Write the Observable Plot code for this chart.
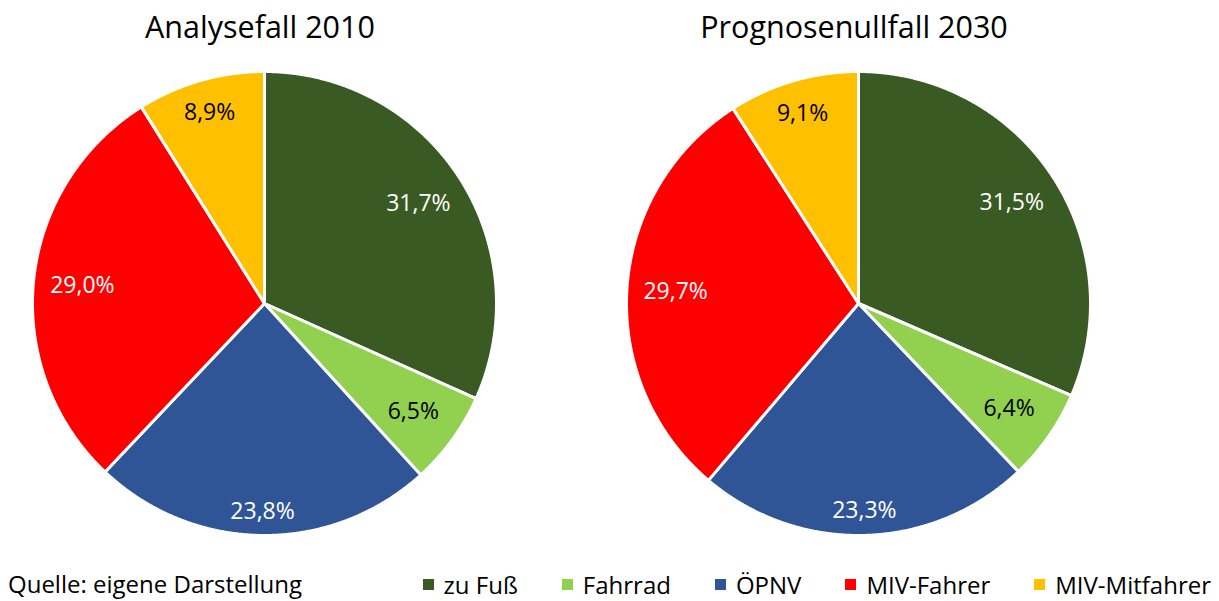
<!DOCTYPE html>
<html><head><meta charset="utf-8">
<script src="https://cdn.jsdelivr.net/npm/d3@7"></script>
<script src="https://cdn.jsdelivr.net/npm/@observablehq/plot@0.6"></script>
<style>
body{margin:0;background:#fff;font-family:"Open Sans",sans-serif;}
#wrap{position:relative;width:1219px;height:601px;overflow:hidden;background:#fff;}
.title{position:absolute;top:5px;font-size:30.5px;color:#000;transform:translateX(-50%);white-space:nowrap;}
.pie{position:absolute;top:63px;}
#caption{position:absolute;left:8px;top:567px;font-size:24px;line-height:34px;color:#000;white-space:nowrap;}
#legend{position:absolute;right:8px;top:567px;}
#legend .lg-swatches{margin:0 !important;min-height:0 !important;height:34px;font-size:24px !important;font-family:"Open Sans",sans-serif !important;color:#000;flex-wrap:nowrap !important;}
#legend .lg-swatch{margin-right:44px !important;}
#legend .lg-swatch:last-child{margin-right:0 !important;}
#legend .lg-swatch > svg{margin-right:10px !important;}
</style></head><body><div id="wrap"></div>
<script>
const categories = ["zu Fuß", "Fahrrad", "ÖPNV", "MIV-Fahrer", "MIV-Mitfahrer"];
const colors = ["#3A5A24", "#92D050", "#2F5597", "#FF0000", "#FFC000"];
const labelColors = ["#ffffff", "#000000", "#ffffff", "#ffffff", "#000000"];
const titles = ["Analysefall 2010", "Prognosenullfall 2030"];
const values2010 = [31.7, 6.5, 23.8, 29.0, 8.9];
const values2030 = [31.5, 6.4, 23.3, 29.7, 9.1];
const caption = "Quelle: eigene Darstellung";

const wrap = document.getElementById("wrap");
const SIZE = 480, MARGIN = 8, R = (SIZE - 2 * MARGIN) / 2;
const colorScale = {type: "ordinal", domain: categories, range: colors};

function makePie(values) {
  const arcs = d3.pie().sort(null).value(d => d)(values);
  const poly = [];
  const labels = [];
  arcs.forEach((a, i) => {
    const cat = categories[i];
    poly.push({cat, x: 0, y: 0});
    const n = Math.max(2, Math.ceil((a.endAngle - a.startAngle) / 0.005));
    for (let k = 0; k <= n; k++) {
      const t = a.startAngle + (a.endAngle - a.startAngle) * k / n;
      poly.push({cat, x: Math.sin(t), y: Math.cos(t)});
    }
    poly.push({cat, x: 0, y: 0});
    const m = (a.startAngle + a.endAngle) / 2;
    const hw = 36, hh = 12;
    const d = (R - 12 - (Math.abs(Math.sin(m)) * hw + Math.abs(Math.cos(m)) * hh)) / R;
    labels.push({cat, x: Math.sin(m) * d, y: Math.cos(m) * d,
      text: values[i].toFixed(1).replace(".", ",") + "%", fill: labelColors[i]});
  });
  return Plot.plot({
    width: SIZE, height: SIZE,
    marginTop: MARGIN, marginBottom: MARGIN, marginLeft: MARGIN, marginRight: MARGIN,
    x: {domain: [-1, 1], axis: null},
    y: {domain: [-1, 1], axis: null},
    color: colorScale,
    style: {background: "transparent", overflow: "visible"},
    marks: [
      Plot.line(poly, {x: "x", y: "y", z: "cat", fill: "cat", stroke: "#ffffff", strokeWidth: 3, strokeLinejoin: "round"}),
      Plot.text(labels, {x: "x", y: "y", text: "text", fill: d => d.fill, fontSize: 23, fontFamily: "Open Sans"})
    ]
  });
}

const centers = [264, 858];
[values2010, values2030].forEach((vals, i) => {
  const t = document.createElement("div");
  t.className = "title";
  t.style.left = (centers[i] - 4) + "px";
  t.textContent = titles[i];
  wrap.appendChild(t);
  const p = makePie(vals);
  p.classList.add("pie");
  p.style.left = (centers[i] - SIZE / 2) + "px";
  wrap.appendChild(p);
});

const cap = document.createElement("div");
cap.id = "caption";
cap.textContent = caption;
wrap.appendChild(cap);

const lg = document.createElement("div");
lg.id = "legend";
lg.appendChild(Plot.legend({color: colorScale, legend: "swatches", swatchSize: 11, className: "lg"}));
wrap.appendChild(lg);
</script></body></html>
